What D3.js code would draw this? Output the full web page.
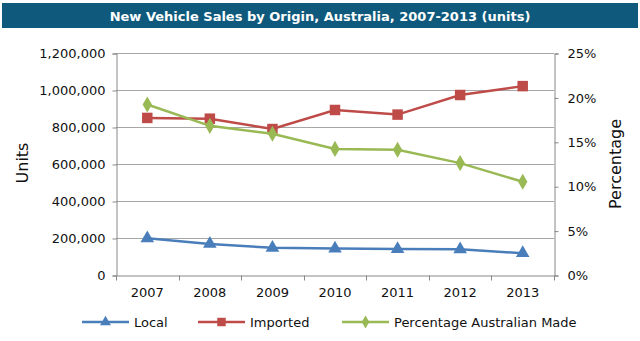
<!DOCTYPE html>
<html>
<head>
<meta charset="utf-8">
<script src="https://cdn.jsdelivr.net/npm/d3@7"></script>
<style>
  body { margin: 0; background: #fff; }
  svg { display: block; font-family: "DejaVu Sans", Verdana, sans-serif; }
</style>
</head>
<body>
<svg width="640" height="341"></svg>
<script>
var years = ['2007', '2008', '2009', '2010', '2011', '2012', '2013'];
var local = [198000, 168000, 147000, 143000, 140000, 139000, 118000];
var imported = [849000, 845000, 789000, 892000, 867000, 973000, 1021000];
var pctAustralian = [19.2, 16.8, 15.9, 14.2, 14.1, 12.6, 10.5];
var unitTicks = [0, 200000, 400000, 600000, 800000, 1000000, 1200000];
var pctTicks = [0, 5, 10, 15, 20, 25];

var svg = d3.select('svg');
var plotL = 116, plotR = 554, plotT = 53, plotB = 275;

// title bar
svg.append('rect').attr('x', 2).attr('y', 3).attr('width', 636).attr('height', 25).attr('fill', '#0f5a7c');
svg.append('text').attr('x', 320).attr('y', 20.5).attr('text-anchor', 'middle')
  .attr('fill', '#fff').attr('font-weight', 'bold').attr('font-size', 13)
  .text('New Vehicle Sales by Origin, Australia, 2007-2013 (units)');

var x = d3.scaleBand().domain(years).range([plotL, plotR]);
var y = d3.scaleLinear().domain([0, 1200000]).range([plotB, plotT]);
var y2 = d3.scaleLinear().domain([0, 25]).range([plotB, plotT]);

// gridlines
svg.append('g').selectAll('line').data(unitTicks.slice(1)).enter().append('line')
  .attr('x1', plotL).attr('x2', plotR)
  .attr('y1', function(d) { return y(d) + 0.5; }).attr('y2', function(d) { return y(d) + 0.5; })
  .attr('stroke', '#a6a6a6').attr('stroke-width', 1);

// left axis
var ax = svg.append('g').attr('transform', 'translate(' + (plotL + 0.5) + ',0.5)')
  .call(d3.axisLeft(y).tickValues(unitTicks).tickFormat(d3.format(',')).tickSize(4).tickPadding(7));
// right axis
var ax2 = svg.append('g').attr('transform', 'translate(' + (plotR + 0.5) + ',0.5)')
  .call(d3.axisRight(y2).tickValues(pctTicks).tickFormat(function(d) { return d + '%'; }).tickSize(4).tickPadding(9));
// bottom axis, ticks between categories
var ax3 = svg.append('g').attr('transform', 'translate(0,' + (plotB + 0.5) + ')')
  .call(d3.axisBottom(x).tickSize(0).tickPadding(12));
ax3.selectAll('.tick line').remove();
ax3.append('g').selectAll('line').data(d3.range(years.length + 1)).enter().append('line')
  .attr('x1', function(i) { return Math.round(plotL + i * x.step()) + 0.5; })
  .attr('x2', function(i) { return Math.round(plotL + i * x.step()) + 0.5; })
  .attr('y1', 0).attr('y2', 5).attr('stroke', '#888');

[ax, ax2, ax3].forEach(function(a) {
  a.select('.domain').attr('stroke', '#888');
  a.selectAll('.tick line').attr('stroke', '#888');
  a.selectAll('text').attr('font-size', 13).attr('fill', '#111').attr('font-family', '"DejaVu Sans", Verdana, sans-serif');
});

svg.append('text').attr('transform', 'translate(28,163) rotate(-90)').attr('text-anchor', 'middle')
  .attr('font-size', 16).attr('fill', '#111').text('Units');
svg.append('text').attr('transform', 'translate(621,164) rotate(-90)').attr('text-anchor', 'middle')
  .attr('font-size', 16).attr('fill', '#111').text('Percentage');

var cx = function(d, i) { return x(years[i]) + x.bandwidth() / 2; };

var series = [
  { name: 'Local', values: local, scale: y, color: '#4a7ebb', shape: d3.symbolTriangle, size: 80 },
  { name: 'Imported', values: imported, scale: y, color: '#be4b48', shape: d3.symbolSquare, size: 110 },
  { name: 'Percentage Australian Made', values: pctAustralian, scale: y2, color: '#98b954', shape: d3.symbolDiamond, size: 75 }
];

series.forEach(function(s) {
  var line = d3.line().x(cx).y(function(d) { return s.scale(d); });
  svg.append('path').datum(s.values).attr('d', line).attr('fill', 'none')
    .attr('stroke', s.color).attr('stroke-width', 2.5);
  svg.append('g').selectAll('path').data(s.values).enter().append('path')
    .attr('d', d3.symbol().type(s.shape).size(s.size))
    .attr('transform', function(d, i) { return 'translate(' + cx(d, i) + ',' + s.scale(d) + ')'; })
    .attr('fill', s.color);
});

// legend
var legendX = [82, 198, 342];
series.forEach(function(s, i) {
  var g = svg.append('g').attr('transform', 'translate(' + legendX[i] + ',322)');
  g.append('line').attr('x1', 0).attr('x2', 47).attr('stroke', s.color).attr('stroke-width', 2.5);
  g.append('path').attr('d', d3.symbol().type(s.shape).size(s.size * 0.65)).attr('transform', 'translate(23.5,0)').attr('fill', s.color);
  g.append('text').attr('x', 52).attr('y', 5).attr('font-size', 13).attr('fill', '#111').text(s.name);
});
</script>
</body>
</html>
